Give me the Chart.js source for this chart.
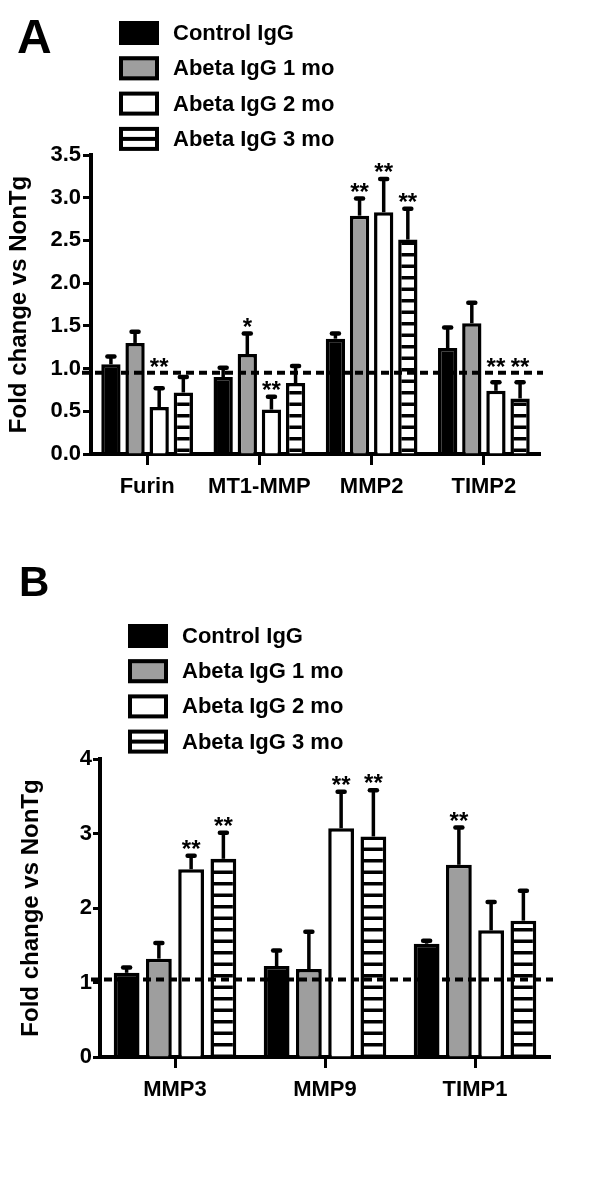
<!DOCTYPE html>
<html>
<head>
<meta charset="utf-8">
<script src="https://cdn.jsdelivr.net/npm/chart.js"></script>
<style>
  body { margin: 0; background: #fff; width: 600px; height: 1200px; position: relative; overflow: hidden; }
  .panel { position: absolute; left: 0; width: 600px; }
  #wrapA { top: 0; height: 520px; }
  #wrapB { top: 560px; height: 580px; }
</style>
</head>
<body>
<div id="wrapA" class="panel"><canvas id="chartA" width="600" height="520"></canvas></div>
<div id="wrapB" class="panel"><canvas id="chartB" width="600" height="580"></canvas></div>
<script>
// series names (same four groups in both panels)
const seriesNames = ['Control IgG', 'Abeta IgG 1 mo', 'Abeta IgG 2 mo', 'Abeta IgG 3 mo'];

// panel A
const genesA = ['Furin', 'MT1-MMP', 'MMP2', 'TIMP2'];
const controlA = [1.05, 0.90, 1.35, 1.24];
const oneMoA = [1.30, 1.17, 2.79, 1.53];
const twoMoA = [0.55, 0.52, 2.83, 0.74];
const threeMoA = [0.72, 0.83, 2.51, 0.65];
const controlErrA = [0.09, 0.11, 0.06, 0.24];
const oneMoErrA = [0.13, 0.24, 0.20, 0.24];
const twoMoErrA = [0.22, 0.15, 0.39, 0.10];
const threeMoErrA = [0.18, 0.20, 0.36, 0.19];
const controlStarsA = ['', '', '', ''];
const oneMoStarsA = ['', '*', '**', ''];
const twoMoStarsA = ['**', '**', '**', '**'];
const threeMoStarsA = ['', '', '**', '**'];
const refLineA = 0.95;

// panel B
const genesB = ['MMP3', 'MMP9', 'TIMP1'];
const controlB = [1.13, 1.22, 1.52];
const oneMoB = [1.32, 1.18, 2.58];
const twoMoB = [2.52, 3.07, 1.70];
const threeMoB = [2.66, 2.96, 1.83];
const controlErrB = [0.07, 0.21, 0.04];
const oneMoErrB = [0.21, 0.50, 0.50];
const twoMoErrB = [0.18, 0.49, 0.38];
const threeMoErrB = [0.35, 0.62, 0.40];
const controlStarsB = ['', '', ''];
const oneMoStarsB = ['', '', '**'];
const twoMoStarsB = ['**', '**', ''];
const threeMoStarsB = ['**', '**', ''];
const refLineB = 1.04;

Chart.defaults.font.family = '"Liberation Sans", Arial, sans-serif';
Chart.defaults.color = '#000';

// horizontal stripes for the 3 mo bars
function stripes() {
  const c = document.createElement('canvas');
  c.width = 8; c.height = 23;
  const g = c.getContext('2d');
  g.fillStyle = '#fff';
  g.fillRect(0, 0, 8, 23);
  g.fillStyle = '#000';
  g.fillRect(0, 0, 8, 3.5);
  g.fillRect(0, 11.5, 8, 3.5);
  return g.createPattern(c, 'repeat');
}
const fills = ['#000', '#9e9e9e', '#fff', stripes()];

// error bars, dotted reference line, asterisks, legend and panel letter
const extras = {
  id: 'extras',
  afterDatasetsDraw(chart, args, o) {
    const ctx = chart.ctx, y = chart.scales.y, area = chart.chartArea;
    ctx.save();
    ctx.strokeStyle = '#000';
    ctx.fillStyle = '#000';
    chart.data.datasets.forEach((ds, i) => {
      chart.getDatasetMeta(i).data.forEach((bar, j) => {
        const top = y.getPixelForValue(ds.data[j] + ds.err[j]);
        ctx.lineWidth = 3.5; ctx.lineCap = 'butt';
        ctx.beginPath(); ctx.moveTo(bar.x, bar.y); ctx.lineTo(bar.x, top); ctx.stroke();
        ctx.lineWidth = 4.5; ctx.lineCap = 'round';
        ctx.beginPath(); ctx.moveTo(bar.x - 3.5, top); ctx.lineTo(bar.x + 3.5, top); ctx.stroke();
      });
    });

    const ry = y.getPixelForValue(o.refLine);
    ctx.setLineDash([8, 5]);
    ctx.lineWidth = 4; ctx.lineCap = 'butt';
    ctx.beginPath(); ctx.moveTo(area.left - 9, ry); ctx.lineTo(area.right + 3, ry); ctx.stroke();
    ctx.setLineDash([]);

    ctx.font = 'bold 24px "Liberation Sans", Arial, sans-serif';
    ctx.textAlign = 'center';
    ctx.textBaseline = 'alphabetic';
    chart.data.datasets.forEach((ds, i) => {
      chart.getDatasetMeta(i).data.forEach((bar, j) => {
        if (!ds.stars[j]) return;
        let cy = y.getPixelForValue(ds.data[j] + ds.err[j]) - 12;
        if (Math.abs(cy - ry) < 9) cy = ry - 11;
        ctx.fillText(ds.stars[j], bar.x, cy + 13);
      });
    });
    ctx.restore();
  },
  afterDraw(chart, args, o) {
    const ctx = chart.ctx, L = o.legend;
    ctx.save();
    chart.data.datasets.forEach((ds, i) => {
      const by = L.y + i * L.step;
      ctx.fillStyle = i === 3 ? '#fff' : ds.backgroundColor;
      ctx.fillRect(L.x, by, 40, 24);
      ctx.strokeStyle = '#000';
      ctx.lineWidth = 4;
      ctx.strokeRect(L.x + 2, by + 2, 36, 20);
      if (i === 3) {
        ctx.fillStyle = '#000';
        ctx.fillRect(L.x, by + 10, 40, 4);
      }
      ctx.fillStyle = '#000';
      ctx.font = 'bold 22px "Liberation Sans", Arial, sans-serif';
      ctx.textAlign = 'left';
      ctx.textBaseline = 'middle';
      ctx.fillText(ds.label, L.textX, by + 13);
    });
    ctx.font = 'bold ' + o.letterSize + 'px "Liberation Sans", Arial, sans-serif';
    ctx.textAlign = 'left';
    ctx.textBaseline = 'alphabetic';
    ctx.fillText(o.letter, o.letterX, o.letterY);
    ctx.restore();
  }
};

function makePanel(id, genes, values, errs, stars, refLine, P) {
  const datasets = seriesNames.map((name, i) => ({
    label: name,
    data: values[i],
    err: errs[i],
    stars: stars[i],
    backgroundColor: fills[i],
    borderColor: '#000',
    borderWidth: 3.5,
    barPercentage: 0.8,
    categoryPercentage: 0.86
  }));
  return new Chart(document.getElementById(id), {
    type: 'bar',
    data: { labels: genes, datasets: datasets },
    plugins: [extras],
    options: {
      responsive: false,
      animation: false,
      layout: { padding: { top: P.top, right: P.right, left: 0, bottom: 0 } },
      plugins: {
        legend: { display: false },
        tooltip: { enabled: false },
        extras: {
          refLine: refLine,
          legend: P.legend,
          letter: P.letter, letterX: P.letterX, letterY: P.letterY, letterSize: P.letterSize
        }
      },
      scales: {
        x: {
          grid: { display: true, offset: false, drawOnChartArea: false, drawTicks: true,
                  tickLength: 11, tickWidth: 3, tickColor: '#000' },
          border: { display: true, color: '#000', width: 4 },
          ticks: { font: { size: 22, weight: 'bold' }, color: '#000', padding: 9,
                   maxRotation: 0, autoSkip: false },
          afterFit(s) { s.height = P.xHeight; }
        },
        y: {
          min: 0, max: P.yMax,
          grid: { display: true, drawOnChartArea: false, drawTicks: true,
                  tickLength: P.tickLen, tickWidth: 3, tickColor: '#000' },
          border: { display: true, color: '#000', width: 4 },
          ticks: { stepSize: P.step, font: { size: 22, weight: 'bold' }, color: '#000',
                   padding: P.tickPad, callback: v => P.decimals ? v.toFixed(1) : String(v) },
          title: { display: true, text: 'Fold change vs NonTg', color: '#000',
                   font: { size: 24, weight: 'bold' }, padding: { top: P.titlePad, bottom: 0 } },
          afterFit(s) { s.width = P.yWidth; }
        }
      }
    }
  });
}

makePanel('chartA', genesA,
  [controlA, oneMoA, twoMoA, threeMoA],
  [controlErrA, oneMoErrA, twoMoErrA, threeMoErrA],
  [controlStarsA, oneMoStarsA, twoMoStarsA, threeMoStarsA],
  refLineA,
  { top: 155, right: 60, xHeight: 66, yWidth: 91, yMax: 3.5, step: 0.5, decimals: true,
    tickLen: 8, tickPad: 2, titlePad: 5,
    legend: { x: 119, y: 21, step: 35.3, textX: 173 },
    letter: 'A', letterX: 17, letterY: 53, letterSize: 48 });

makePanel('chartB', genesB,
  [controlB, oneMoB, twoMoB, threeMoB],
  [controlErrB, oneMoErrB, twoMoErrB, threeMoErrB],
  [controlStarsB, oneMoStarsB, twoMoStarsB, threeMoStarsB],
  refLineB,
  { top: 199, right: 50, xHeight: 83, yWidth: 100, yMax: 4, step: 1, decimals: false,
    tickLen: 7, tickPad: 1, titlePad: 17,
    legend: { x: 128, y: 64, step: 35.2, textX: 182 },
    letter: 'B', letterX: 19, letterY: 36, letterSize: 42 });
</script>
</body>
</html>
